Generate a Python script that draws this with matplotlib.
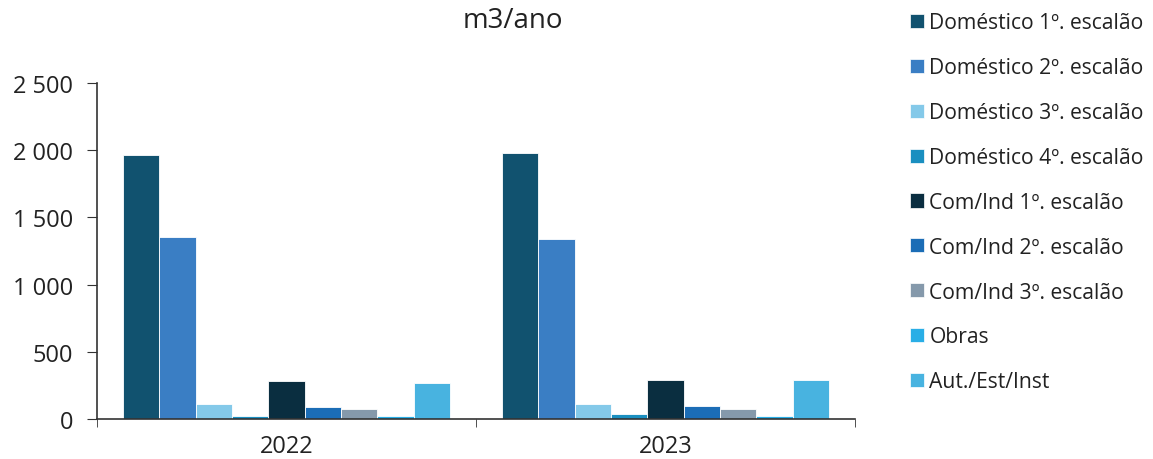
import numpy as np
import matplotlib
matplotlib.use('Agg')
import matplotlib.pyplot as plt
import matplotlib.ticker as ticker
from matplotlib.patches import Patch

plt.rcParams['font.family'] = ['Open Sans', 'DejaVu Sans']

years = ['2022', '2023']
series = ['Doméstico 1º. escalão', 'Doméstico 2º. escalão', 'Doméstico 3º. escalão',
          'Doméstico 4º. escalão', 'Com/Ind 1º. escalão', 'Com/Ind 2º. escalão',
          'Com/Ind 3º. escalão', 'Obras', 'Aut./Est/Inst']
values_2022 = [1964, 1354, 112, 20, 280, 87, 77, 20, 270]
values_2023 = [1979, 1340, 112, 35, 292, 100, 77, 20, 292]
colors = ['#11526f', '#3a7ec4', '#84c9e9', '#1a8fc0', '#0a2e40',
          '#1b6db6', '#8599ab', '#29aee6', '#48b3e0']

fig = plt.figure(figsize=(11.53, 4.6), dpi=100)
ax = fig.add_axes([0.0841, 0.087, 0.6575, 0.7304])

data = np.array([values_2022, values_2023])
n = len(series)
group_w = 0.862
bw = group_w / n
x = np.arange(len(years))
for i in range(n):
    ax.bar(x - group_w / 2 + bw * (i + 0.5), data[:, i], width=bw,
           color=colors[i], edgecolor='white', linewidth=0.6, label=series[i])

ax.set_xlim(-0.5, len(years) - 0.5)
ax.set_ylim(0, 2500)
ax.yaxis.set_major_locator(ticker.MultipleLocator(500))
ax.yaxis.set_major_formatter(ticker.FuncFormatter(lambda v, p: f'{int(v):,}'.replace(',', ' ')))
ax.set_xticks(x)
ax.set_xticklabels(years)
ax.set_xticks([-0.5, 0.5, 1.5], minor=True)
ax.tick_params(axis='x', which='major', length=0, labelsize=17, pad=11, colors='#222222')
ax.tick_params(axis='x', which='minor', length=6, direction='out', color='#333333')
ax.tick_params(axis='y', length=7, direction='out', labelsize=17, pad=10,
               color='#333333', labelcolor='#222222')
for s in ['top', 'right']:
    ax.spines[s].set_visible(False)
for s in ['left', 'bottom']:
    ax.spines[s].set_color('#333333')
    ax.spines[s].set_linewidth(1.2)

fig.text(0.445, 0.955, 'm3/ano', ha='center', va='center', fontsize=20, color='#222222')

handles = [Patch(facecolor=c, edgecolor='white', linewidth=0.5) for c in colors]
fig.legend(handles, series, loc='upper left', bbox_to_anchor=(0.773, 1.012),
           frameon=False, fontsize=15.2, handlelength=0.65, handleheight=0.65,
           handletextpad=0.25, labelspacing=1.13, labelcolor='#222222')

fig.savefig('out.png', dpi=100)
